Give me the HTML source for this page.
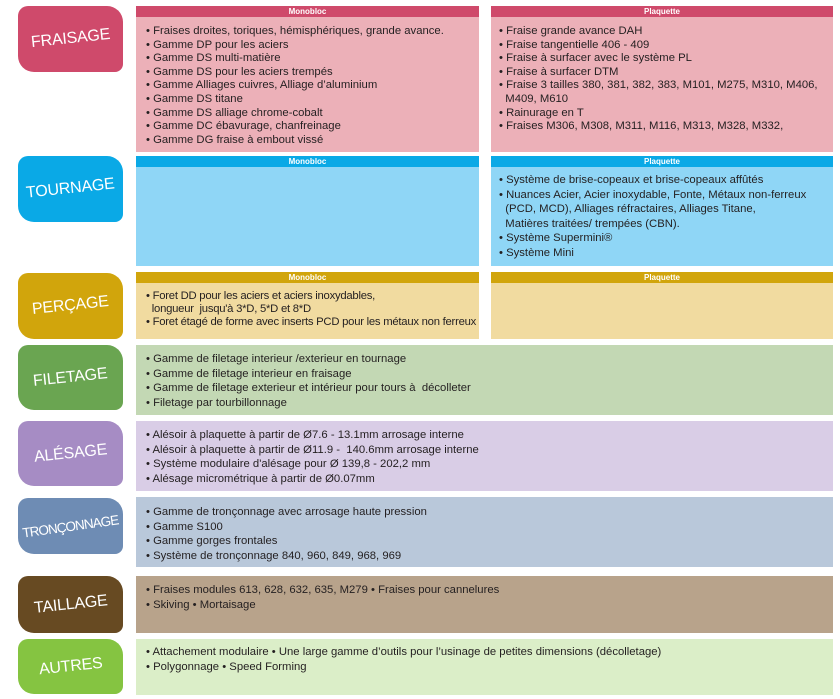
<!DOCTYPE html>
<html><head><meta charset="utf-8"><style>
*{margin:0;padding:0;box-sizing:border-box}
body{width:840px;height:699px;background:#fff;position:relative;overflow:hidden;font-family:"Liberation Sans",sans-serif;color:#231f20}
.lab{position:absolute;left:18px;width:105px;border-radius:10px 16px 8px 16px;display:flex;align-items:center;justify-content:center;color:#fff;font-size:16px}
.lab span{display:block;transform:rotate(-6deg);letter-spacing:-0.2px}
.p{position:absolute}
.h{height:11px;color:#fff;font-size:8px;font-weight:bold;text-align:center;line-height:11px}
.t{position:absolute;font-size:11.3px;line-height:14.5px;white-space:nowrap;letter-spacing:0}
</style></head><body>

<div class="lab" style="top:6px;height:66px;background:#cf4a6b"><span>FRAISAGE</span></div>
<div class="p" style="left:136px;top:6px;width:343px;height:146px;background:#ecb0b8"><div class="h" style="background:#cf4a6b">Monobloc</div></div>
<div class="p" style="left:491px;top:6px;width:342px;height:146px;background:#ecb0b8"><div class="h" style="background:#cf4a6b">Plaquette</div></div>
<div class="t" style="left:146px;top:25px;line-height:13.6px">• Fraises droites, toriques, hémisphériques, grande avance.<br>• Gamme DP pour les aciers<br>• Gamme DS multi-matière<br>• Gamme DS pour les aciers trempés<br>• Gamme Alliages cuivres, Alliage d’aluminium<br>• Gamme DS titane<br>• Gamme DS alliage chrome-cobalt<br>• Gamme DC ébavurage, chanfreinage<br>• Gamme DG fraise à embout vissé</div>
<div class="t" style="left:499px;top:25px;line-height:13.6px">• Fraise grande avance DAH<br>• Fraise tangentielle 406 - 409<br>• Fraise à surfacer avec le système PL<br>• Fraise à surfacer DTM<br>• Fraise 3 tailles 380, 381, 382, 383, M101, M275, M310, M406,<br>&nbsp;&nbsp;M409, M610<br>• Rainurage en T<br>• Fraises M306, M308, M311, M116, M313, M328, M332,</div>

<div class="lab" style="top:156px;height:66px;background:#0aa9e6"><span>TOURNAGE</span></div>
<div class="p" style="left:136px;top:156px;width:343px;height:110px;background:#8fd6f6"><div class="h" style="background:#0aa9e6">Monobloc</div></div>
<div class="p" style="left:491px;top:156px;width:342px;height:110px;background:#8fd6f6"><div class="h" style="background:#0aa9e6">Plaquette</div></div>
<div class="t" style="left:499px;top:173px">• Système de brise-copeaux et brise-copeaux affûtés<br>• Nuances Acier, Acier inoxydable, Fonte, Métaux non-ferreux<br>&nbsp;&nbsp;(PCD, MCD), Alliages réfractaires, Alliages Titane,<br>&nbsp;&nbsp;Matières traitées/ trempées (CBN).<br>• Système Supermini®<br>• Système Mini</div>

<div class="lab" style="top:273px;height:66px;background:#d1a50c"><span>PERÇAGE</span></div>
<div class="p" style="left:136px;top:272px;width:343px;height:67px;background:#f1dba0"><div class="h" style="background:#d1a50c">Monobloc</div></div>
<div class="p" style="left:491px;top:272px;width:342px;height:67px;background:#f1dba0"><div class="h" style="background:#d1a50c">Plaquette</div></div>
<div class="t" style="left:146px;top:290px;line-height:13px;letter-spacing:-0.25px">• Foret DD pour les aciers et aciers inoxydables,<br>&nbsp;&nbsp;longueur&nbsp; jusqu'à 3*D, 5*D et 8*D<br>• Foret étagé de forme avec inserts PCD pour les métaux non ferreux</div>

<div class="lab" style="top:345px;height:65px;background:#6aa551"><span>FILETAGE</span></div>
<div class="p" style="left:136px;top:345px;width:697px;height:70px;background:#c3d8b4"></div>
<div class="t" style="left:146px;top:352px">• Gamme de filetage interieur /exterieur en tournage<br>• Gamme de filetage interieur en fraisage<br>• Gamme de filetage exterieur et intérieur pour tours à&nbsp; décolleter<br>• Filetage par tourbillonnage</div>

<div class="lab" style="top:421px;height:65px;background:#a68cc4"><span>ALÉSAGE</span></div>
<div class="p" style="left:136px;top:421px;width:697px;height:70px;background:#d9cde6"></div>
<div class="t" style="left:146px;top:428px">• Alésoir à plaquette à partir de Ø7.6 - 13.1mm arrosage interne<br>• Alésoir à plaquette à partir de Ø11.9 -&nbsp; 140.6mm arrosage interne<br>• Système modulaire d'alésage pour Ø 139,8 - 202,2 mm<br>• Alésage micrométrique à partir de Ø0.07mm</div>

<div class="lab" style="top:498px;height:56px;background:#6e8cb4"><span style="font-size:13.5px;letter-spacing:-0.9px;transform:rotate(-8deg)">TRONÇONNAGE</span></div>
<div class="p" style="left:136px;top:497px;width:697px;height:70px;background:#b9c8da"></div>
<div class="t" style="left:146px;top:505px">• Gamme de tronçonnage avec arrosage haute pression<br>• Gamme S100<br>• Gamme gorges frontales<br>• Système de tronçonnage 840, 960, 849, 968, 969</div>

<div class="lab" style="top:576px;height:57px;background:#674a22"><span>TAILLAGE</span></div>
<div class="p" style="left:136px;top:576px;width:697px;height:57px;background:#b8a38b"></div>
<div class="t" style="left:146px;top:583px">• Fraises modules 613, 628, 632, 635, M279 • Fraises pour cannelures<br>• Skiving • Mortaisage</div>

<div class="lab" style="top:639px;height:55px;background:#85c441"><span>AUTRES</span></div>
<div class="p" style="left:136px;top:639px;width:697px;height:56px;background:#dbeec8"></div>
<div class="t" style="left:146px;top:645px">• Attachement modulaire • Une large gamme d’outils pour l’usinage de petites dimensions (décolletage)<br>• Polygonnage • Speed Forming</div>

</body></html>
